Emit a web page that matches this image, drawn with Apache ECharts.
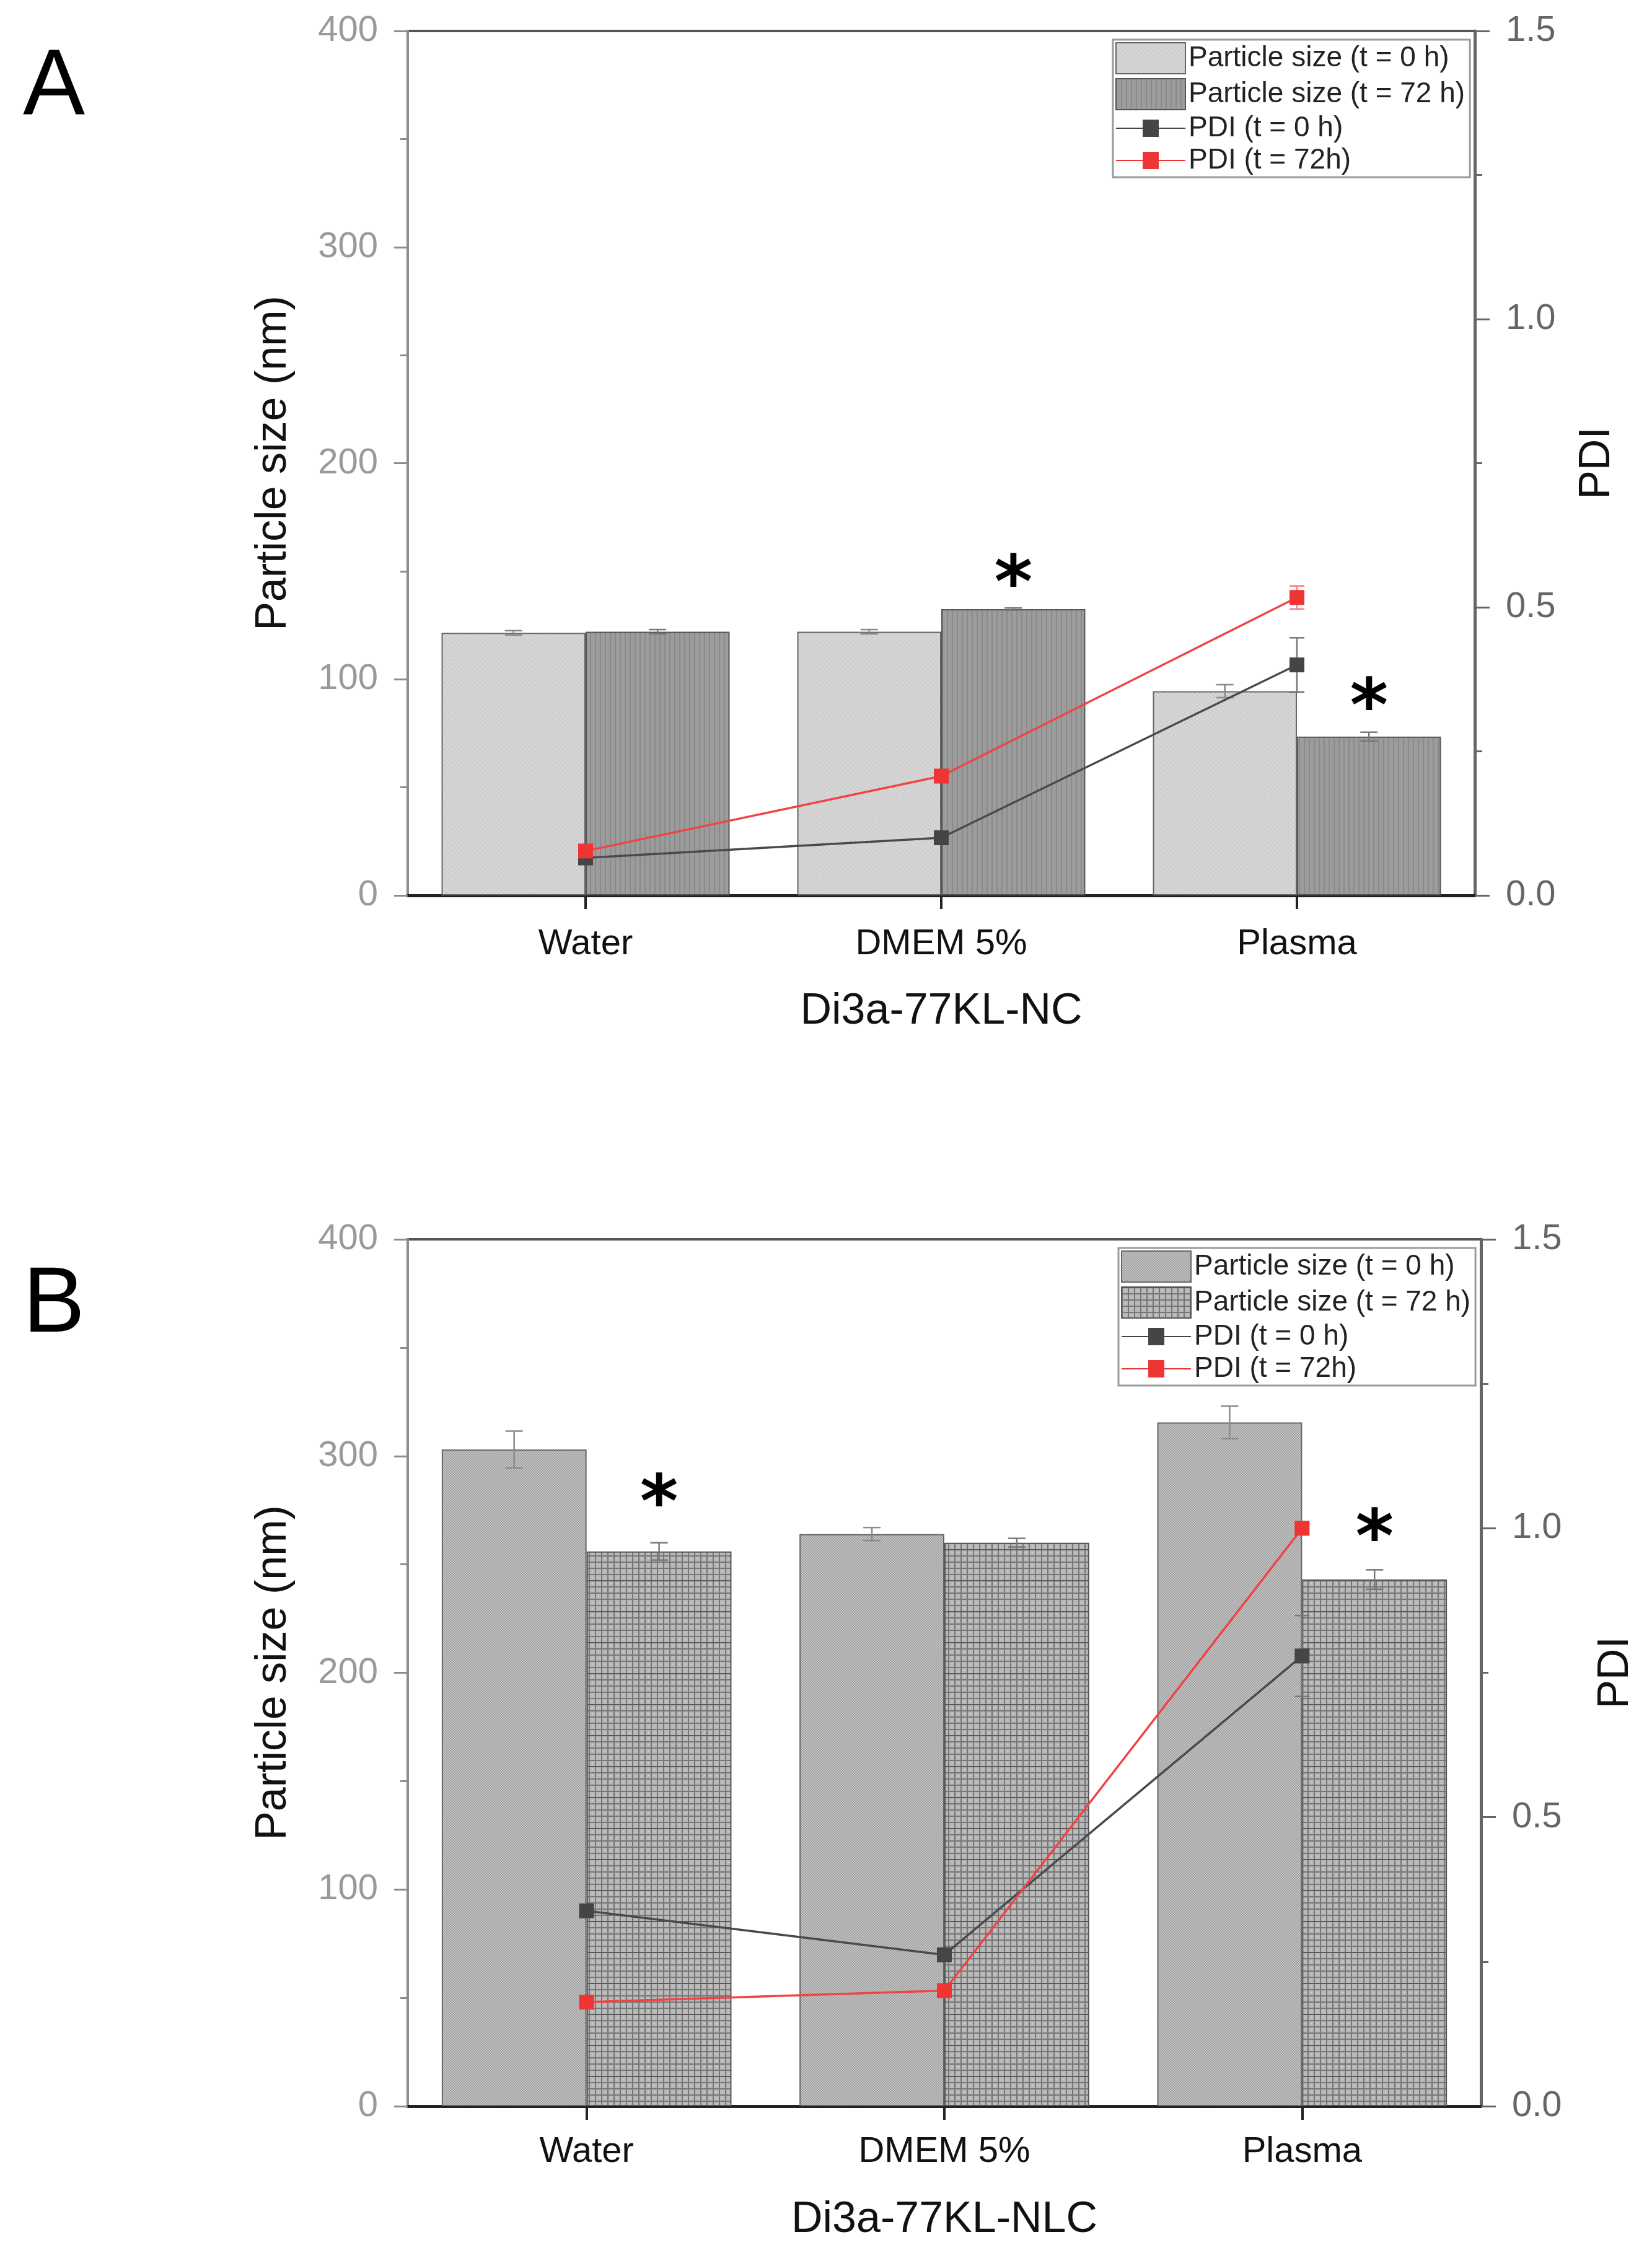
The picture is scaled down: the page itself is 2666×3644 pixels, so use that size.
<!DOCTYPE html>
<html>
<head>
<meta charset="utf-8">
<script src="https://cdn.jsdelivr.net/npm/echarts@6/dist/echarts.min.js"></script>
<style>
  html, body { margin: 0; padding: 0; background: #fff; }
  #main { width: 2666px; height: 3644px; }
</style>
</head>
<body>
<div id="main"></div>
<script>
// categories and values
const categories = ['Water', 'DMEM 5%', 'Plasma'];
const seriesNames = ['Particle size (t = 0 h)', 'Particle size (t = 72 h)', 'PDI (t = 0 h)', 'PDI (t = 72h)'];
const sizeTicks = [0, 100, 200, 300, 400];
const pdiTicks = [0, 0.5, 1.0, 1.5];

// panel A: Di3a-77KL-NC
const sizeA0 = [121.5, 122, 94.5];
const sizeA0Err = [1, 1, 3];
const sizeA72 = [122, 132.5, 73.5];
const sizeA72Err = [1, 0.5, 2];
const pdiA0 = [0.065, 0.10, 0.40];
const pdiA0Err = [0.008, 0.005, 0.047];
const pdiA72 = [0.077, 0.207, 0.517];
const pdiA72Err = [0.01, 0.005, 0.02];
const starA = [null, 149, 92];   // asterisks over the 72 h bars

// panel B: Di3a-77KL-NLC
const sizeB0 = [303, 264, 315.5];
const sizeB0Err = [8.5, 3, 7.5];
const sizeB72 = [256, 260, 243];
const sizeB72Err = [4, 2, 4.5];
const pdiB0 = [0.338, 0.262, 0.779];
const pdiB0Err = [0.005, 0.005, 0.07];
const pdiB72 = [0.18, 0.20, 1.0];
const pdiB72Err = [0.005, 0.005, 0.01];
const starB = [283, null, 267];

const FONT = '"Liberation Sans", Arial, sans-serif';
// legend icon for the PDI series: thin line with a small square in the middle
const LINE_ICON = 'path://M0,13 L43,13 L43,0 L69,0 L69,13 L112,13 L112,15 L69,15 L69,28 L43,28 L43,15 L0,15 Z';

function pattern(w, h, draw) {
  const c = document.createElement('canvas');
  c.width = w; c.height = h;
  draw(c.getContext('2d'));
  return { image: c, repeat: 'repeat' };
}
// fill patterns of the four bar series
const patA0 = pattern(6, 6, g => {
  g.fillStyle = '#d3d3d3'; g.fillRect(0, 0, 6, 6);
  g.fillStyle = '#b6b6b6'; g.fillRect(0, 0, 1, 1); g.fillRect(3, 3, 1, 1);
  g.fillStyle = '#e6e6e6'; g.fillRect(3, 0, 1, 1); g.fillRect(0, 3, 1, 1);
});
const patA72 = pattern(8, 8, g => {
  g.fillStyle = '#9c9c9c'; g.fillRect(0, 0, 8, 8);
  g.fillStyle = '#8a8a8a'; g.fillRect(0, 0, 2, 8);
});
const patB0 = pattern(4, 4, g => {
  g.fillStyle = '#b2b2b2'; g.fillRect(0, 0, 4, 4);
  g.fillStyle = '#dadada'; g.fillRect(1, 1, 1, 1); g.fillRect(3, 3, 1, 1);
  g.fillStyle = '#8c8c8c'; g.fillRect(1, 3, 1, 1); g.fillRect(3, 1, 1, 1);
});
const patB72 = pattern(10, 50, g => {
  g.fillStyle = '#b9b9b9'; g.fillRect(0, 0, 10, 50);
  g.fillStyle = '#767676';
  g.fillRect(0, 0, 2, 50);
  for (let y = 0; y < 50; y += 10) g.fillRect(0, y, 10, 2);
  g.fillStyle = '#595959'; g.fillRect(0, 0, 10, 2);
  g.fillStyle = '#dcdcdc';
  for (let y = 5; y < 50; y += 10) g.fillRect(6, y, 1, 1);
});

function errData(vals, errs) {
  return vals.map((v, i) => [i, v - errs[i], v + errs[i]]);
}
function starData(vals) {
  return vals.map((v, i) => [i, v]).filter(d => d[1] !== null);
}

function errBar(off, color, cap, w) {
  return function (params, api) {
    const i = api.value(0);
    const lo = api.coord([i, api.value(1)]);
    const hi = api.coord([i, api.value(2)]);
    const bw = api.size([1, 0])[0];
    const x = lo[0] + off * bw;
    const style = { stroke: color, lineWidth: w };
    return {
      type: 'group',
      children: [
        { type: 'line', shape: { x1: x, y1: lo[1], x2: x, y2: hi[1] }, style: style },
        { type: 'line', shape: { x1: x - cap, y1: lo[1], x2: x + cap, y2: lo[1] }, style: style },
        { type: 'line', shape: { x1: x - cap, y1: hi[1], x2: x + cap, y2: hi[1] }, style: style }
      ]
    };
  };
}
function star(off) {
  return function (params, api) {
    const p = api.coord([api.value(0), api.value(1)]);
    const bw = api.size([1, 0])[0];
    return {
      type: 'text',
      x: p[0] + off * bw,
      y: p[1] + 24,
      style: {
        text: '*', fontSize: 118, fontWeight: 'bold', fontFamily: '"DejaVu Sans", sans-serif',
        fill: '#000', align: 'center', verticalAlign: 'middle'
      }
    };
  };
}

function xAxisCfg(grid, name, labelMargin, nameGap) {
  return {
    gridIndex: grid, type: 'category', data: categories,
    axisLine: { show: true, lineStyle: { color: '#222', width: 5 } },
    axisTick: { show: true, alignWithLabel: true, length: 22, lineStyle: { color: '#222', width: 4 } },
    axisLabel: { color: '#111', fontSize: 58, fontFamily: FONT, margin: labelMargin },
    name: name, nameLocation: 'middle', nameGap: nameGap,
    nameTextStyle: { color: '#111', fontSize: 70, fontFamily: FONT },
    splitLine: { show: false }
  };
}
function sizeAxisCfg(grid) {
  return {
    gridIndex: grid, type: 'value', position: 'left',
    min: sizeTicks[0], max: sizeTicks[sizeTicks.length - 1], interval: 100,
    axisLine: { show: true, lineStyle: { color: '#8c8c8c', width: 4 } },
    axisTick: { show: true, length: 22, lineStyle: { color: '#8c8c8c', width: 3 } },
    minorTick: { show: true, splitNumber: 2, length: 12, lineStyle: { color: '#8c8c8c', width: 3 } },
    axisLabel: { color: '#9a9a9a', fontSize: 58, fontFamily: FONT, margin: 48 },
    splitLine: { show: false },
    name: 'Particle size (nm)', nameLocation: 'middle', nameGap: 181,
    nameTextStyle: { color: '#111', fontSize: 70, fontFamily: FONT }
  };
}
function pdiAxisCfg(grid, nameGap) {
  return {
    gridIndex: grid, type: 'value', position: 'right',
    min: pdiTicks[0], max: pdiTicks[pdiTicks.length - 1], interval: 0.5,
    axisLine: { show: true, lineStyle: { color: '#666', width: 5 } },
    axisTick: { show: true, length: 24, lineStyle: { color: '#666', width: 3 } },
    minorTick: { show: true, splitNumber: 2, length: 12, lineStyle: { color: '#666', width: 3 } },
    axisLabel: { color: '#666', fontSize: 58, fontFamily: FONT, margin: 50, formatter: v => v.toFixed(1) },
    splitLine: { show: false },
    name: 'PDI', nameLocation: 'middle', nameGap: nameGap, nameRotate: 90,
    nameTextStyle: { color: '#111', fontSize: 70, fontFamily: FONT }
  };
}
function legendCfg(prefix, left, top) {
  return {
    data: seriesNames.map((n, i) => ({ name: prefix + '|' + n, icon: i < 2 ? 'rect' : LINE_ICON })),
    formatter: n => n.split('|')[1],
    orient: 'vertical', left: left, top: top,
    itemWidth: 112, itemHeight: 50, itemGap: 6,
    padding: [4, 8, 4, 4],
    borderColor: '#9a9a9a', borderWidth: 3, backgroundColor: '#fff',
    selectedMode: false,
    textStyle: { fontSize: 46, color: '#222', fontFamily: FONT }
  };
}

function panelSeries(prefix, xi, yl, yr, s0, s0e, s72, s72e, p0, p0e, p72, p72e, pat0, pat72, stars) {
  return [
    {
      name: prefix + '|' + seriesNames[0], type: 'bar', xAxisIndex: xi, yAxisIndex: yl,
      data: s0, barGap: '0%', barCategoryGap: '19%',
      itemStyle: { color: pat0, borderColor: '#666', borderWidth: 2 }
    },
    {
      name: prefix + '|' + seriesNames[1], type: 'bar', xAxisIndex: xi, yAxisIndex: yl,
      data: s72, barGap: '0%', barCategoryGap: '19%',
      itemStyle: { color: pat72, borderColor: '#555', borderWidth: 2 }
    },
    {
      type: 'custom', xAxisIndex: xi, yAxisIndex: yl, z: 3, silent: true,
      renderItem: errBar(-0.2025, '#8a8a8a', 14, 2.5), data: errData(s0, s0e),
      encode: { x: 0, y: [1, 2] }
    },
    {
      type: 'custom', xAxisIndex: xi, yAxisIndex: yl, z: 3, silent: true,
      renderItem: errBar(0.2025, '#777', 14, 2.5), data: errData(s72, s72e),
      encode: { x: 0, y: [1, 2] }
    },
    {
      type: 'custom', xAxisIndex: xi, yAxisIndex: yr, z: 4, silent: true,
      renderItem: errBar(0, '#777', 12, 2.5), data: errData(p0, p0e),
      encode: { x: 0, y: [1, 2] }
    },
    {
      type: 'custom', xAxisIndex: xi, yAxisIndex: yr, z: 4, silent: true,
      renderItem: errBar(0, '#f08080', 12, 2.5), data: errData(p72, p72e),
      encode: { x: 0, y: [1, 2] }
    },
    {
      name: prefix + '|' + seriesNames[2], type: 'line', xAxisIndex: xi, yAxisIndex: yr, z: 5,
      data: p0, symbol: 'rect', symbolSize: 24, color: '#454545',
      lineStyle: { color: '#4a4a4a', width: 3.5 }, itemStyle: { color: '#454545' }
    },
    {
      name: prefix + '|' + seriesNames[3], type: 'line', xAxisIndex: xi, yAxisIndex: yr, z: 6,
      data: p72, symbol: 'rect', symbolSize: 24, color: '#ef3434',
      lineStyle: { color: '#f04444', width: 3.5 }, itemStyle: { color: '#ef3434' }
    },
    {
      type: 'custom', xAxisIndex: xi, yAxisIndex: yl, z: 7, silent: true,
      renderItem: star(0.2025), data: starData(stars), encode: { x: 0, y: 1 }
    }
  ];
}

const option = {
  backgroundColor: '#fff',
  animation: false,
  textStyle: { fontFamily: FONT },
  graphic: [
    { type: 'text', x: 87, y: 143, style: { text: 'A', fontSize: 150, fontFamily: FONT, fill: '#000', align: 'center', verticalAlign: 'middle' } },
    { type: 'text', x: 87, y: 2108, style: { text: 'B', fontSize: 150, fontFamily: FONT, fill: '#000', align: 'center', verticalAlign: 'middle' } }
  ],
  grid: [
    { left: 658, top: 50, width: 1722, height: 1395, show: true, borderColor: '#555', borderWidth: 4, backgroundColor: '#fff' },
    { left: 658, top: 2000, width: 1732, height: 1399, show: true, borderColor: '#555', borderWidth: 4, backgroundColor: '#fff' }
  ],
  legend: [legendCfg('A', 1796, 64), legendCfg('B', 1805, 2014)],
  xAxis: [xAxisCfg(0, 'Di3a-77KL-NC', 50, 153), xAxisCfg(1, 'Di3a-77KL-NLC', 45, 149)],
  yAxis: [sizeAxisCfg(0), pdiAxisCfg(0, 163), sizeAxisCfg(1), pdiAxisCfg(1, 183)],
  series: [].concat(
    panelSeries('A', 0, 0, 1, sizeA0, sizeA0Err, sizeA72, sizeA72Err, pdiA0, pdiA0Err, pdiA72, pdiA72Err, patA0, patA72, starA),
    panelSeries('B', 1, 2, 3, sizeB0, sizeB0Err, sizeB72, sizeB72Err, pdiB0, pdiB0Err, pdiB72, pdiB72Err, patB0, patB72, starB)
  )
};

const myChart = echarts.init(document.getElementById('main'));
myChart.setOption(option);
window.addEventListener('resize', function () {
  myChart.resize();
}, false);
</script>
</body>
</html>
